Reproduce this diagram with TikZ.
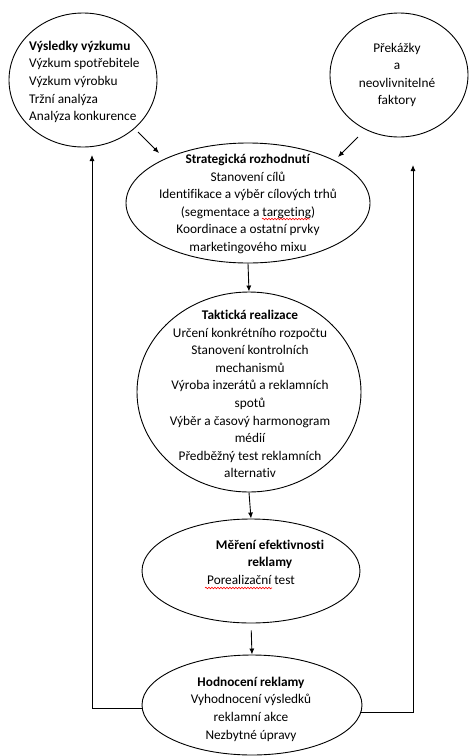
\documentclass[tikz,border=0pt]{standalone}
\usepackage{fontspec}
\setmainfont{Carlito}[Ligatures=NoCommon]
\usetikzlibrary{shapes.geometric,arrows.meta,decorations.pathmorphing}
\begin{document}
\begin{tikzpicture}[x=1pt,y=-1pt,
  bubble/.style={draw, ellipse, line width=0.9pt, inner sep=0pt},
  txt/.style={font=\fontsize{13.3}{17.6}\selectfont, align=center, inner sep=0pt},
  arr/.style={-{Latex[length=6pt,width=5pt]}, line width=0.9pt},
  squig/.style={red, line width=0.6pt, decorate, decoration={snake, amplitude=0.8pt, segment length=3pt}}]
\useasboundingbox (0,0) rectangle (469,756);

% shapes
\node[bubble, minimum width=148pt, minimum height=134pt] (c1) at (83,80) {};
\node[bubble, minimum width=138pt, minimum height=124pt] (c2) at (399,75) {};
\node[bubble, minimum width=244pt, minimum height=120pt] (strat) at (248,203) {};
\node[bubble, minimum width=224pt, minimum height=200pt] (tact) at (249,392) {};
\node[bubble, minimum width=218pt, minimum height=104pt] (meas) at (251,571) {};
\node[bubble, minimum width=220pt, minimum height=100pt] (eval) at (252,705) {};

% texts
\node[txt, align=left, anchor=west] (t1) at (29,82)
  {\textbf{Výsledky výzkumu}\\Výzkum spotřebitele\\Výzkum výrobku\\Tržní analýza\\Analýza konkurence};
\node[txt] (t2) at (397,75) {Překážky\\a\\neovlivnitelné\\faktory};
\node[txt] (t3) at (248,204)
  {\textbf{Strategická rozhodnutí}\\Stanovení cílů\\Identifikace a výběr cílových trhů\\(segmentace a targeting)\\Koordinace a ostatní prvky\\marketingového mixu};
\node[txt] (t4) at (250,394)
  {\textbf{Taktická realizace}\\Určení konkrétního rozpočtu\\Stanovení kontrolních\\mechanismů\\Výroba inzerátů a reklamních\\spotů\\Výběr a časový harmonogram\\médií\\Předběžný test reklamních\\alternativ};
\node[txt] (t5) at (251,562)
  {\hspace*{38pt}\textbf{Měření efektivnosti}\\\hspace*{38pt}\textbf{reklamy}\\Porealizační test};
\node[txt] (t6) at (251,709)
  {\textbf{Hodnocení reklamy}\\Vyhodnocení výsledků\\reklamní akce\\Nezbytné úpravy};

% spell-check marks
\draw[squig] (262,219) -- (310,219);
\draw[squig] (205,588) -- (272,588);

% connectors
\coordinate (a1s) at (138,132);
\coordinate (a1e) at (159,153);
\coordinate (a2s) at (358,137);
\coordinate (a2e) at (338,157);
\draw[arr] (a1s) -- (a1e);
\draw[arr] (a2s) -- (a2e);
\draw[arr] (strat.south) -- (tact.north);
\draw[arr] (tact.south) -- (meas.north);
\draw[arr, shorten <=7pt] (meas.south) -- (eval.north);
\coordinate (fbL) at (92,155);
\coordinate (fbR) at (413,165);
\draw[arr] (eval.182) -| (fbL);
\draw[arr] (eval.-4) -| (fbR);
\end{tikzpicture}
\end{document}
